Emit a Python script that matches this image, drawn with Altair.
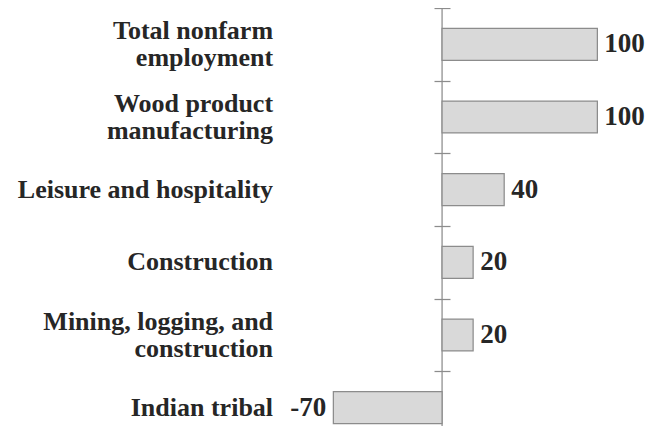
import altair as alt
import pandas as pd

categories = [
    "Total nonfarm\nemployment",
    "Wood product\nmanufacturing",
    "Leisure and hospitality",
    "Construction",
    "Mining, logging, and\nconstruction",
    "Indian tribal",
]
values = [100, 100, 40, 20, 20, -70]

df = pd.DataFrame({"category": categories, "value": values})
df["label"] = [str(v) for v in values]
df["zero"] = 0

FONT = "Liberation Serif"
TEXT = "#262626"
GREY = "#8c8c8c"
LINE_H = 27

x_scale = alt.Scale(domain=[-279.5, 132.6], nice=False)

y_enc = alt.Y(
    "category:N",
    sort=categories,
    scale=alt.Scale(range=[0, 436], paddingInner=0, paddingOuter=0),
    axis=alt.Axis(
        title=None,
        orient="left",
        offset=-442,
        domain=False,
        labels=False,
        tickSize=16,
        tickColor=GREY,
        tickWidth=1.25,
        tickBand="extent",
    ),
)

axis_line = alt.Chart(pd.DataFrame({"zero": [0]})).mark_rule(
    color=GREY, strokeWidth=1.25
).encode(
    x=alt.X("zero:Q", scale=x_scale, axis=None),
    y=alt.value(0),
    y2=alt.value(436),
)

bars = alt.Chart(df).mark_bar(
    height={"band": 0.44}, fill="#d9d9d9", stroke=GREY, strokeWidth=1.25
).encode(
    x=alt.X("value:Q", scale=x_scale, axis=None),
    x2=alt.datum(0),
    y=y_enc,
)

cat_style = dict(
    align="right", baseline="middle", font=FONT, fontSize=26, fontWeight="bold",
    color=TEXT, lineBreak="\n", lineHeight=LINE_H, dx=-169,
)

cat_single = alt.Chart(df).transform_filter("indexof(datum.category, '\\n') < 0").mark_text(
    **cat_style
).encode(
    x=alt.X("zero:Q", scale=x_scale, axis=None),
    y=y_enc,
    text="category:N",
)

cat_multi = alt.Chart(df).transform_filter("indexof(datum.category, '\\n') >= 0").mark_text(
    dy=-LINE_H / 2, **cat_style
).encode(
    x=alt.X("zero:Q", scale=x_scale, axis=None),
    y=y_enc,
    text="category:N",
)

text_style = dict(baseline="middle", font=FONT, fontSize=27, fontWeight="bold", color=TEXT)

pos_text = alt.Chart(df).transform_filter("datum.value >= 0").mark_text(
    align="left", dx=7, **text_style
).encode(
    x=alt.X("value:Q", scale=x_scale, axis=None),
    y=y_enc,
    text="label:N",
)

neg_text = alt.Chart(df).transform_filter("datum.value < 0").mark_text(
    align="right", dx=-7, **text_style
).encode(
    x=alt.X("value:Q", scale=x_scale, axis=None),
    y=y_enc,
    text="label:N",
)

chart = alt.layer(axis_line, bars, cat_single, cat_multi, pos_text, neg_text).properties(
    width=640,
    height=418,
    autosize=alt.AutoSizeParams(type="none"),
    padding=0,
).configure_view(stroke=None)

chart.save("out.html", embed_options={"renderer": "svg", "actions": False})
